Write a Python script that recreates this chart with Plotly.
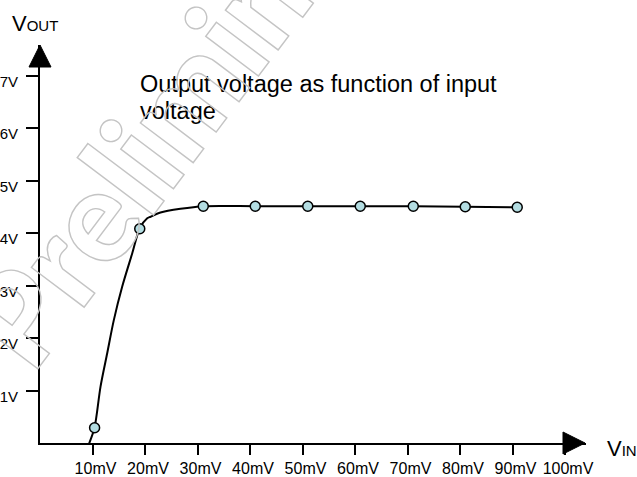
import plotly.graph_objects as go

# ---- data ----
x_ticks = [10, 20, 30, 40, 50, 60, 70, 80, 90, 100]
x_ticktext = ["10mV", "20mV", "30mV", "40mV", "50mV", "60mV", "70mV", "80mV", "90mV", "100mV"]
y_ticks = [1, 2, 3, 4, 5, 6, 7]
y_ticktext = ["1V", "2V", "3V", "4V", "5V", "6V", "7V"]

# measured points (mV, V)
point_vin = [10.4, 19.0, 31.1, 41.0, 51.0, 61.0, 71.1, 81.0, 90.9]
point_vout = [0.29, 4.08, 4.51, 4.51, 4.51, 4.51, 4.51, 4.50, 4.49]

# traced characteristic curve (mV, V)
curve_vin = [9.24, 10.38, 11.52, 12.8, 14.06, 15.66, 17.56, 19.0, 20.42, 21.05, 22.95, 26.76,
             31.14, 41.0, 51.0, 61.0, 71.1, 81.0, 90.9]
curve_vout = [-0.04, 0.29, 1.07, 1.71, 2.34, 2.98, 3.61, 4.09, 4.28, 4.31, 4.39, 4.46,
              4.51, 4.51, 4.51, 4.51, 4.51, 4.50, 4.49]

title_line1 = "Output voltage as function of input"
title_line2 = "voltage"
watermark_text = "Preliminary"

FONT = "Liberation Sans, Arial, sans-serif"

fig = go.Figure()
fig.add_trace(go.Scatter(
    x=curve_vin, y=curve_vout, mode="lines",
    line=dict(color="black", width=2, shape="spline", smoothing=0.8),
    hoverinfo="skip", showlegend=False))
fig.add_trace(go.Scatter(
    x=point_vin, y=point_vout, mode="markers",
    marker=dict(size=10, color="#b3dde2", line=dict(color="black", width=1.5)),
    showlegend=False, cliponaxis=False))

fig.update_layout(
    template="none",
    width=637, height=477,
    margin=dict(l=40, r=51, t=45, b=34),
    paper_bgcolor="white", plot_bgcolor="white",
    font=dict(family=FONT, color="black"),
    showlegend=False,
    xaxis=dict(range=[0, 104], showgrid=False, zeroline=False, showline=True,
               linecolor="black", linewidth=2, ticks="outside", ticklen=10,
               tickwidth=2, tickcolor="black", tickvals=x_ticks, ticktext=x_ticktext,
               tickfont=dict(size=16, family=FONT), ticklabelshift=3, automargin=False),
    yaxis=dict(range=[0, 7.581], showgrid=False, zeroline=False, showline=True,
               linecolor="black", linewidth=2, ticks="outside", ticklen=12,
               tickwidth=2, tickcolor="black", tickvals=y_ticks, ticktext=y_ticktext,
               tickfont=dict(size=15, family=FONT), ticklabelshift=6,
               ticklabelstandoff=5, automargin=False),
)

# axis arrow heads (pixel-sized, anchored at axis ends)
fig.add_shape(type="path", xref="paper", yref="paper", xsizemode="pixel", ysizemode="pixel",
              xanchor=0, yanchor=1, path="M 0 0 L -11 -22 L 11 -22 Z",
              fillcolor="black", line=dict(color="black", width=1))
fig.add_shape(type="path", xref="paper", yref="paper", xsizemode="pixel", ysizemode="pixel",
              xanchor=1, yanchor=0, path="M -1 0 L -23 11 L -23 -11 Z",
              fillcolor="black", line=dict(color="black", width=1))

# axis names
fig.add_annotation(xref="paper", yref="paper", x=-0.055, y=1.018, xanchor="left", yanchor="bottom",
                   text="V<span style='font-size:15px'>OUT</span>", showarrow=False,
                   font=dict(size=22, family=FONT, color="black"))
fig.add_annotation(xref="paper", yref="paper", x=1.035, y=-0.0495, xanchor="left", yanchor="bottom",
                   text="V<span style='font-size:15px'>IN</span>", showarrow=False,
                   font=dict(size=22, family=FONT, color="black"))

# chart title inside plot
fig.add_annotation(xref="paper", yref="paper", x=0.1795, y=0.9023, xanchor="left", yanchor="middle",
                   text=title_line1, showarrow=False, align="left",
                   font=dict(size=23.5, family=FONT, color="black"))
fig.add_annotation(xref="paper", yref="paper", x=0.1795, y=0.8344, xanchor="left", yanchor="middle",
                   text=title_line2, showarrow=False, align="left",
                   font=dict(size=23.5, family=FONT, color="black"))

# outlined watermark
fig.add_annotation(xref="paper", yref="paper", x=0.275, y=0.90, xanchor="center", yanchor="middle",
                   text="<span style='fill:none;stroke:#c4c4c4;stroke-width:1.4px'>" + watermark_text + "</span>",
                   showarrow=False, textangle=-53,
                   font=dict(size=128, family="Lato, Liberation Sans, sans-serif", weight=900,
                             color="#c4c4c4"))

fig.write_html("out.html", config={"displayModeBar": False},
               post_script="document.body.style.margin='0px';")
